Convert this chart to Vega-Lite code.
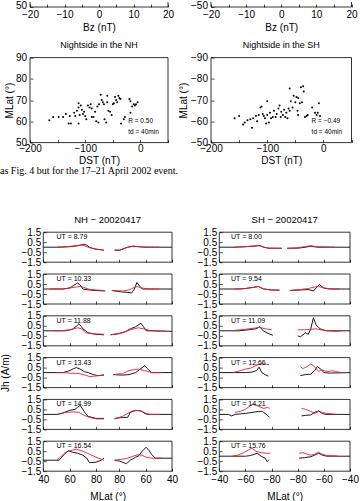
{
"$schema":"https://vega.github.io/schema/vega-lite/v6.json",
"padding":{"top":0,"left":0,"right":0,"bottom":0},
"background":"white",
"columns":2,
"spacing":{"row":11.8,"column":39},
"bounds":"flush",
"align":"each",
"resolve":{"scale":{"x":"independent","y":"independent"}},
"config":{
 "font":"Liberation Sans",
 "view":{"stroke":null},
 "axis":{"domain":false,"grid":false,"tickSize":-3,"tickCount":50,"tickColor":"#000","tickWidth":0.7,"labelColor":"#000","titleColor":"#000","labelFontSize":10,"titleFontSize":10,"titleFontWeight":"normal","labelFlush":false,"labelOverlap":false},
 "title":{"fontSize":9,"fontWeight":"normal","color":"#000"}
},
"concat":[
{"width":138,"height":5,
 "layer":[
  {"data":{"values":[{}]},"mark":{"type":"rule","color":"#000","strokeWidth":0.8},
   "encoding":{"x":{"datum":-20,"type":"quantitative","scale":{"domain":[-20,20],"nice":false,"zero":false},"axis":{"values":[-20,-15,-10,-5,0,5,10,15,20],"tickCount":50,"labelExpr":"datum.value % 10 == 0 ? datum.label : ''","title":"Bz (nT)","labelPadding":5,"titlePadding":3}},"x2":{"datum":20},
   "y":{"datum":50,"type":"quantitative","scale":{"domain":[50,52.35],"nice":false,"zero":false},"axis":{"values":[50],"tickCount":50,"format":"d","title":null,"labelPadding":6.5,"labelOffset":-2}}}},
  {"data":{"values":[{}]},"mark":{"type":"rule","color":"#000","strokeWidth":0.8},"encoding":{"x":{"datum":-20},"y":{"datum":50},"y2":{"datum":52.35}}},
  {"data":{"values":[{}]},"mark":{"type":"rule","color":"#000","strokeWidth":0.8},"encoding":{"x":{"datum":20},"y":{"datum":50},"y2":{"datum":52.35}}}
 ]},
{"width":140.5,"height":5,
 "layer":[
  {"data":{"values":[{}]},"mark":{"type":"rule","color":"#000","strokeWidth":0.8},
   "encoding":{"x":{"datum":-20,"type":"quantitative","scale":{"domain":[-20,20],"nice":false,"zero":false},"axis":{"values":[-20,-15,-10,-5,0,5,10,15,20],"tickCount":50,"labelExpr":"datum.value % 10 == 0 ? datum.label : ''","title":"Bz (nT)","labelPadding":5,"titlePadding":3}},"x2":{"datum":20},
   "y":{"datum":-50,"type":"quantitative","scale":{"domain":[-52.35,-50],"nice":false,"zero":false,"reverse":true},"axis":{"values":[-50],"tickCount":50,"format":"d","title":null,"labelPadding":6.5,"labelOffset":-2}}}},
  {"data":{"values":[{}]},"mark":{"type":"rule","color":"#000","strokeWidth":0.8},"encoding":{"x":{"datum":-20},"y":{"datum":-50},"y2":{"datum":-52.35}}},
  {"data":{"values":[{}]},"mark":{"type":"rule","color":"#000","strokeWidth":0.8},"encoding":{"x":{"datum":20},"y":{"datum":-50},"y2":{"datum":-52.35}}}
 ]},
{"width":138,"height":26.4,"data":{"values":[{"a":1}]},"mark":{"type":"text"},"encoding":{"text":{"value":""}}},
{"width":140.5,"height":26.4,"data":{"values":[{"a":1}]},"mark":{"type":"text"},"encoding":{"text":{"value":""}}},
{"width":138,"height":85,"title":{"text":"Nightside in the NH","offset":3},
 "layer":[
  {"data":{"values":[{}]},"mark":{"type":"rect","fill":"transparent","stroke":"#000","strokeWidth":0.8},
   "encoding":{"x":{"datum":-200,"type":"quantitative","scale":{"domain":[-200,50],"nice":false,"zero":false},"axis":{"values":[-200,-150,-100,-50,0,50],"tickCount":50,"labelExpr":"datum.value % 100 == 0 ? datum.label : ''","title":"DST (nT)","labelPadding":4,"titlePadding":2}},"x2":{"datum":50},
   "y":{"datum":50,"type":"quantitative","scale":{"domain":[50,90],"nice":false,"zero":false},"axis":{"values":[50,60,70,80,90],"tickCount":50,"title":"MLat (°)","labelPadding":6.5,"titlePadding":1}},"y2":{"datum":90}}},
  {"data":{"values":[{"x":-165,"y":60.5},{"x":-158,"y":62},{"x":-148,"y":62},{"x":-140,"y":62},{"x":-135,"y":63.5},{"x":-128,"y":62.5},{"x":-126,"y":59},{"x":-120,"y":64},{"x":-118,"y":62.5},{"x":-115,"y":65},{"x":-112,"y":68.5},{"x":-112,"y":66.5},{"x":-110,"y":63},{"x":-108,"y":67.5},{"x":-106,"y":65.5},{"x":-112,"y":59},{"x":-104,"y":63.5},{"x":-102,"y":64.5},{"x":-100,"y":62.5},{"x":-98,"y":61},{"x":-95,"y":67.5},{"x":-92,"y":66.5},{"x":-90,"y":68},{"x":-88,"y":66},{"x":-85,"y":62},{"x":-82,"y":64.5},{"x":-80,"y":60},{"x":-78,"y":67},{"x":-76,"y":59.5},{"x":-75,"y":68},{"x":-72,"y":72.5},{"x":-70,"y":70},{"x":-68,"y":69},{"x":-66,"y":68},{"x":-65,"y":61},{"x":-62,"y":59.5},{"x":-60,"y":69},{"x":-58,"y":65},{"x":-55,"y":64.5},{"x":-52,"y":63},{"x":-50,"y":68},{"x":-48,"y":68.5},{"x":-46,"y":71.5},{"x":-44,"y":70},{"x":-42,"y":69},{"x":-40,"y":72},{"x":-38,"y":71},{"x":-36,"y":70.5},{"x":-35,"y":59},{"x":-30,"y":61},{"x":-28,"y":62},{"x":-20,"y":70.5},{"x":-18,"y":69.5},{"x":-15,"y":67},{"x":-12,"y":68},{"x":-10,"y":67.5},{"x":-8,"y":68},{"x":-5,"y":69},{"x":-18,"y":64},{"x":-60,"y":72},{"x":-88,"y":62},{"x":-130,"y":59}]},
   "mark":{"type":"circle","size":4,"color":"#000","opacity":1},"encoding":{"x":{"field":"x","type":"quantitative"},"y":{"field":"y","type":"quantitative"}}},
  {"data":{"values":[{"t":"R = 0.50"}]},"mark":{"type":"text","align":"left","baseline":"middle","fontSize":6.5},"encoding":{"x":{"datum":-22},"y":{"datum":60},"text":{"field":"t"}}},
  {"data":{"values":[{"t":"td = 40min"}]},"mark":{"type":"text","align":"left","baseline":"middle","fontSize":6.5},"encoding":{"x":{"datum":-22},"y":{"datum":55},"text":{"field":"t"}}}
 ]},
{"width":140.5,"height":85,"title":{"text":"Nightside in the SH","offset":3},
 "layer":[
  {"data":{"values":[{}]},"mark":{"type":"rect","fill":"transparent","stroke":"#000","strokeWidth":0.8},
   "encoding":{"x":{"datum":-200,"type":"quantitative","scale":{"domain":[-200,50],"nice":false,"zero":false},"axis":{"values":[-200,-150,-100,-50,0,50],"tickCount":50,"labelExpr":"datum.value % 100 == 0 ? datum.label : ''","title":"DST (nT)","labelPadding":4,"titlePadding":2}},"x2":{"datum":50},
   "y":{"datum":-90,"type":"quantitative","scale":{"domain":[-90,-50],"nice":false,"zero":false,"reverse":true},"axis":{"values":[-90,-80,-70,-60,-50],"tickCount":50,"title":"MLat (°)","labelPadding":6.5,"titlePadding":2}},"y2":{"datum":-50}}},
  {"data":{"values":[{"x":-158,"y":-61.5},{"x":-150,"y":-62.5},{"x":-143,"y":-58.5},{"x":-140,"y":-59.5},{"x":-135,"y":-60.5},{"x":-130,"y":-61},{"x":-127,"y":-57},{"x":-125,"y":-61.5},{"x":-120,"y":-62.5},{"x":-118,"y":-60},{"x":-115,"y":-63},{"x":-112,"y":-66.5},{"x":-110,"y":-67},{"x":-108,"y":-63.5},{"x":-106,"y":-62.5},{"x":-104,"y":-61.5},{"x":-102,"y":-59},{"x":-100,"y":-69.5},{"x":-100,"y":-63},{"x":-97,"y":-59.5},{"x":-95,"y":-64},{"x":-93,"y":-61.5},{"x":-90,"y":-62},{"x":-88,"y":-65},{"x":-85,"y":-62},{"x":-83,"y":-63.5},{"x":-80,"y":-66},{"x":-78,"y":-67.5},{"x":-76,"y":-62},{"x":-75,"y":-64.5},{"x":-72,"y":-63},{"x":-70,"y":-65.5},{"x":-68,"y":-62},{"x":-66,"y":-64},{"x":-64,"y":-61.5},{"x":-62,"y":-66},{"x":-60,"y":-65},{"x":-58,"y":-69.5},{"x":-55,"y":-66.5},{"x":-53,"y":-72},{"x":-50,"y":-69},{"x":-48,"y":-71.5},{"x":-46,"y":-65},{"x":-45,"y":-63},{"x":-42,"y":-68.5},{"x":-40,"y":-76},{"x":-38,"y":-69},{"x":-36,"y":-76.5},{"x":-35,"y":-74},{"x":-33,"y":-62},{"x":-30,"y":-62.5},{"x":-28,"y":-63},{"x":-20,"y":-66.5},{"x":-15,"y":-64},{"x":-12,"y":-63},{"x":-10,"y":-64},{"x":-8,"y":-68.5},{"x":-6,"y":-62.5},{"x":-60,"y":-75.5},{"x":-45,"y":-71}]},
   "mark":{"type":"circle","size":4,"color":"#000","opacity":1},"encoding":{"x":{"field":"x","type":"quantitative"},"y":{"field":"y","type":"quantitative"}}},
  {"data":{"values":[{"t":"R = −0.49"}]},"mark":{"type":"text","align":"left","baseline":"middle","fontSize":6.5},"encoding":{"x":{"datum":-21},"y":{"datum":-60},"text":{"field":"t"}}},
  {"data":{"values":[{"t":"td = 40min"}]},"mark":{"type":"text","align":"left","baseline":"middle","fontSize":6.5},"encoding":{"x":{"datum":-21},"y":{"datum":-55},"text":{"field":"t"}}}
 ]},
{"width":138,"height":65.7,"title":{"text":"as Fig. 4 but for the 17–21 April 2002 event.","anchor":"start","frame":"group","offset":0,"dx":-30,"dy":22,"font":"Liberation Serif","fontSize":10},"data":{"values":[{"a":1}]},"mark":{"type":"text"},"encoding":{"text":{"value":""}}},
{"width":140.5,"height":65.7,"data":{"values":[{"a":1}]},"mark":{"type":"text"},"encoding":{"text":{"value":""}}},

{"width":142,"height":30,"title":{"text":"NH − 20020417","fontSize":9.5,"offset":3,"dx":6.6},
 "layer":[
  {"data":{"values":[{}]},"mark":{"type":"rect","fill":"transparent","stroke":"#000","strokeWidth":0.8},
   "encoding":{"x":{"datum":40,"type":"quantitative","scale":{"domain":[40,137.6],"range":[13.3,142],"nice":false,"zero":false},"axis":{"values":[40,60,80,97.6,117.6,137.6],"tickCount":50,"labels":false,"title":null}},"x2":{"datum":137.6},
   "y":{"datum":-1.5,"type":"quantitative","scale":{"domain":[-1.5,1.5],"nice":false},"axis":{"values":[-1.5,-0.5,0.5,1.5],"tickCount":50,"format":".1f","offset":-13.3,"labelPadding":5.6,"title":null}},"y2":{"datum":1.5}}},
  {"data":{"values":[{"g":"k1","p":40,"y":0},{"g":"k1","p":50,"y":0},{"g":"k1","p":55,"y":0.02},{"g":"k1","p":60,"y":0.05},{"g":"k1","p":65,"y":0.12},{"g":"k1","p":68,"y":0.2},{"g":"k1","p":71,"y":0.3},{"g":"k1","p":73,"y":0.2},{"g":"k1","p":75,"y":0},{"g":"k1","p":77,"y":-0.1},{"g":"k1","p":80,"y":-0.2},{"g":"k1","p":83,"y":-0.25},{"g":"k1","p":86,"y":-0.3},
   {"g":"k2","p":94,"y":-0.3},{"g":"k2","p":98,"y":-0.3},{"g":"k2","p":101,"y":-0.15},{"g":"k2","p":104,"y":0},{"g":"k2","p":108,"y":0.1},{"g":"k2","p":112,"y":0.05},{"g":"k2","p":116,"y":0},{"g":"k2","p":125,"y":0},{"g":"k2","p":137.6,"y":0},
   {"g":"r1","p":50,"y":0},{"g":"r1","p":55,"y":0.02},{"g":"r1","p":60,"y":0.08},{"g":"r1","p":65,"y":0.15},{"g":"r1","p":68,"y":0.2},{"g":"r1","p":70,"y":0.2},{"g":"r1","p":72,"y":0.1},{"g":"r1","p":75,"y":-0.05},{"g":"r1","p":80,"y":-0.2},{"g":"r1","p":85,"y":-0.25},
   {"g":"r2","p":94,"y":-0.3},{"g":"r2","p":98,"y":-0.28},{"g":"r2","p":101,"y":-0.15},{"g":"r2","p":104,"y":0},{"g":"r2","p":108,"y":0.1},{"g":"r2","p":112,"y":0.06},{"g":"r2","p":118,"y":0.02},{"g":"r2","p":128,"y":0}]},
   "mark":{"type":"line","strokeWidth":0.9},"encoding":{"x":{"field":"p","type":"quantitative"},"y":{"field":"y","type":"quantitative"},"color":{"field":"g","type":"nominal","scale":{"domain":["k1","k2","r1","r2"],"range":["#000000","#000000","#e8202a","#e8202a"]},"legend":null}}},
  {"data":{"values":[{"t":"UT = 8.79"}]},"mark":{"type":"text","align":"left","baseline":"middle","fontSize":7},"encoding":{"x":{"datum":50},"y":{"datum":1.0},"text":{"field":"t"}}}
 ]},
{"width":139,"height":30,"title":{"text":"SH − 20020417","fontSize":9.5,"offset":3,"dx":4.2},
 "layer":[
  {"data":{"values":[{}]},"mark":{"type":"rect","fill":"transparent","stroke":"#000","strokeWidth":0.8},
   "encoding":{"x":{"datum":40,"type":"quantitative","scale":{"domain":[40,140],"range":[8.3,139],"nice":false,"zero":false},"axis":{"values":[40,60,80,100,120,140],"tickCount":50,"labels":false,"title":null}},"x2":{"datum":140},
   "y":{"datum":-1.5,"type":"quantitative","scale":{"domain":[-1.5,1.5],"nice":false},"axis":{"values":[-1.5,-0.5,0.5,1.5],"tickCount":50,"format":".1f","offset":-8.3,"labelPadding":5.6,"title":null}},"y2":{"datum":1.5}}},
  {"data":{"values":[{"g":"k1","p":40,"y":0},{"g":"k1","p":52,"y":0},{"g":"k1","p":60,"y":0.05},{"g":"k1","p":66,"y":0.1},{"g":"k1","p":71,"y":0.15},{"g":"k1","p":74,"y":0},{"g":"k1","p":78,"y":-0.1},{"g":"k1","p":88,"y":-0.1},
   {"g":"k2","p":92,"y":-0.1},{"g":"k2","p":100,"y":-0.1},{"g":"k2","p":106,"y":0},{"g":"k2","p":110,"y":0.1},{"g":"k2","p":115,"y":0},{"g":"k2","p":125,"y":0},{"g":"k2","p":140,"y":0},
   {"g":"r1","p":51,"y":0},{"g":"r1","p":60,"y":0.05},{"g":"r1","p":66,"y":0.12},{"g":"r1","p":70,"y":0.18},{"g":"r1","p":73,"y":0.05},{"g":"r1","p":77,"y":-0.1},{"g":"r1","p":87,"y":-0.12},
   {"g":"r2","p":92,"y":-0.12},{"g":"r2","p":100,"y":-0.05},{"g":"r2","p":105,"y":0.05},{"g":"r2","p":110,"y":0.15},{"g":"r2","p":114,"y":0.05},{"g":"r2","p":120,"y":0.03},{"g":"r2","p":128,"y":0}]},
   "mark":{"type":"line","strokeWidth":0.9},"encoding":{"x":{"field":"p","type":"quantitative"},"y":{"field":"y","type":"quantitative"},"color":{"field":"g","type":"nominal","scale":{"domain":["k1","k2","r1","r2"],"range":["#000000","#000000","#e8202a","#e8202a"]},"legend":null}}},
  {"data":{"values":[{"t":"UT = 8.00"}]},"mark":{"type":"text","align":"left","baseline":"middle","fontSize":7},"encoding":{"x":{"datum":49},"y":{"datum":1.0},"text":{"field":"t"}}}
 ]},

{"width":142,"height":30,
 "layer":[
  {"data":{"values":[{}]},"mark":{"type":"rect","fill":"transparent","stroke":"#000","strokeWidth":0.8},
   "encoding":{"x":{"datum":40,"type":"quantitative","scale":{"domain":[40,137.6],"range":[13.3,142],"nice":false,"zero":false},"axis":{"values":[40,60,80,97.6,117.6,137.6],"tickCount":50,"labels":false,"title":null}},"x2":{"datum":137.6},
   "y":{"datum":-1.5,"type":"quantitative","scale":{"domain":[-1.5,1.5],"nice":false},"axis":{"values":[-1.5,-0.5,0.5,1.5],"tickCount":50,"format":".1f","offset":-13.3,"labelPadding":5.6,"title":null}},"y2":{"datum":1.5}}},
  {"data":{"values":[{"g":"k1","p":40,"y":0},{"g":"k1","p":55,"y":0},{"g":"k1","p":60,"y":0.1},{"g":"k1","p":63,"y":0.35},{"g":"k1","p":66,"y":0.6},{"g":"k1","p":68,"y":0.4},{"g":"k1","p":70,"y":0},{"g":"k1","p":75,"y":-0.1},{"g":"k1","p":80,"y":-0.15},{"g":"k1","p":87,"y":-0.2},
   {"g":"k2","p":92,"y":-0.15},{"g":"k2","p":100,"y":-0.3},{"g":"k2","p":105,"y":-0.35},{"g":"k2","p":107,"y":-0.4},{"g":"k2","p":109,"y":0},{"g":"k2","p":111,"y":0.65},{"g":"k2","p":113,"y":0.3},{"g":"k2","p":115,"y":0},{"g":"k2","p":125,"y":0},{"g":"k2","p":137.6,"y":0},
   {"g":"r1","p":45,"y":0},{"g":"r1","p":55,"y":0},{"g":"r1","p":60,"y":0.1},{"g":"r1","p":65,"y":0.2},{"g":"r1","p":68,"y":0.25},{"g":"r1","p":71,"y":0.15},{"g":"r1","p":74,"y":0},{"g":"r1","p":80,"y":-0.1},{"g":"r1","p":86,"y":-0.15},
   {"g":"r2","p":92,"y":-0.15},{"g":"r2","p":100,"y":-0.2},{"g":"r2","p":105,"y":-0.1},{"g":"r2","p":108,"y":0.1},{"g":"r2","p":111,"y":0.25},{"g":"r2","p":115,"y":0.1},{"g":"r2","p":120,"y":0},{"g":"r2","p":128,"y":0}]},
   "mark":{"type":"line","strokeWidth":0.9},"encoding":{"x":{"field":"p","type":"quantitative"},"y":{"field":"y","type":"quantitative"},"color":{"field":"g","type":"nominal","scale":{"domain":["k1","k2","r1","r2"],"range":["#000000","#000000","#e8202a","#e8202a"]},"legend":null}}},
  {"data":{"values":[{"t":"UT = 10.33"}]},"mark":{"type":"text","align":"left","baseline":"middle","fontSize":7},"encoding":{"x":{"datum":50},"y":{"datum":1.0},"text":{"field":"t"}}}
 ]},
{"width":139,"height":30,
 "layer":[
  {"data":{"values":[{}]},"mark":{"type":"rect","fill":"transparent","stroke":"#000","strokeWidth":0.8},
   "encoding":{"x":{"datum":40,"type":"quantitative","scale":{"domain":[40,140],"range":[8.3,139],"nice":false,"zero":false},"axis":{"values":[40,60,80,100,120,140],"tickCount":50,"labels":false,"title":null}},"x2":{"datum":140},
   "y":{"datum":-1.5,"type":"quantitative","scale":{"domain":[-1.5,1.5],"nice":false},"axis":{"values":[-1.5,-0.5,0.5,1.5],"tickCount":50,"format":".1f","offset":-8.3,"labelPadding":5.6,"title":null}},"y2":{"datum":1.5}}},
  {"data":{"values":[{"g":"k1","p":40,"y":0},{"g":"k1","p":55,"y":0},{"g":"k1","p":60,"y":0.05},{"g":"k1","p":65,"y":0.15},{"g":"k1","p":70,"y":0.25},{"g":"k1","p":74,"y":0},{"g":"k1","p":80,"y":-0.1},{"g":"k1","p":86,"y":-0.1},
   {"g":"k2","p":94,"y":-0.15},{"g":"k2","p":102,"y":-0.1},{"g":"k2","p":108,"y":-0.05},{"g":"k2","p":112,"y":-0.2},{"g":"k2","p":116.5,"y":0.45},{"g":"k2","p":120,"y":0.1},{"g":"k2","p":124,"y":0},{"g":"k2","p":140,"y":0},
   {"g":"r1","p":52,"y":0},{"g":"r1","p":60,"y":0.05},{"g":"r1","p":66,"y":0.15},{"g":"r1","p":70,"y":0.25},{"g":"r1","p":74,"y":0},{"g":"r1","p":80,"y":-0.1},{"g":"r1","p":86,"y":-0.15},
   {"g":"r2","p":94,"y":-0.15},{"g":"r2","p":102,"y":-0.05},{"g":"r2","p":108,"y":0.05},{"g":"r2","p":113,"y":0.2},{"g":"r2","p":116,"y":0.25},{"g":"r2","p":120,"y":0.1},{"g":"r2","p":126,"y":0.02},{"g":"r2","p":132,"y":0}]},
   "mark":{"type":"line","strokeWidth":0.9},"encoding":{"x":{"field":"p","type":"quantitative"},"y":{"field":"y","type":"quantitative"},"color":{"field":"g","type":"nominal","scale":{"domain":["k1","k2","r1","r2"],"range":["#000000","#000000","#e8202a","#e8202a"]},"legend":null}}},
  {"data":{"values":[{"t":"UT = 9.54"}]},"mark":{"type":"text","align":"left","baseline":"middle","fontSize":7},"encoding":{"x":{"datum":49},"y":{"datum":1.0},"text":{"field":"t"}}}
 ]},

{"width":142,"height":30,
 "layer":[
  {"data":{"values":[{}]},"mark":{"type":"rect","fill":"transparent","stroke":"#000","strokeWidth":0.8},
   "encoding":{"x":{"datum":40,"type":"quantitative","scale":{"domain":[40,137.6],"range":[13.3,142],"nice":false,"zero":false},"axis":{"values":[40,60,80,97.6,117.6,137.6],"tickCount":50,"labels":false,"title":null}},"x2":{"datum":137.6},
   "y":{"datum":-1.5,"type":"quantitative","scale":{"domain":[-1.5,1.5],"nice":false},"axis":{"values":[-1.5,-0.5,0.5,1.5],"tickCount":50,"format":".1f","offset":-13.3,"labelPadding":5.6,"title":null}},"y2":{"datum":1.5}}},
  {"data":{"values":[{"g":"k1","p":40,"y":0},{"g":"k1","p":57,"y":0},{"g":"k1","p":62,"y":0.15},{"g":"k1","p":65,"y":0.45},{"g":"k1","p":67,"y":0.7},{"g":"k1","p":69,"y":0.4},{"g":"k1","p":70,"y":0.2},{"g":"k1","p":74,"y":-0.2},{"g":"k1","p":80,"y":-0.35},{"g":"k1","p":86,"y":-0.4},
   {"g":"k2","p":91,"y":-0.4},{"g":"k2","p":97,"y":-0.3},{"g":"k2","p":102,"y":-0.1},{"g":"k2","p":106,"y":0.2},{"g":"k2","p":110,"y":0.4},{"g":"k2","p":114,"y":0.75},{"g":"k2","p":116,"y":0.4},{"g":"k2","p":118,"y":0},{"g":"k2","p":125,"y":0},{"g":"k2","p":137.6,"y":-0.05},
   {"g":"r1","p":48,"y":0},{"g":"r1","p":55,"y":0.02},{"g":"r1","p":60,"y":0.1},{"g":"r1","p":63,"y":0.2},{"g":"r1","p":66,"y":0.3},{"g":"r1","p":69,"y":0.2},{"g":"r1","p":72,"y":-0.2},{"g":"r1","p":78,"y":-0.3},{"g":"r1","p":86,"y":-0.35},
   {"g":"r2","p":91,"y":-0.4},{"g":"r2","p":100,"y":-0.2},{"g":"r2","p":106,"y":0.1},{"g":"r2","p":112,"y":0.3},{"g":"r2","p":116,"y":0.2},{"g":"r2","p":122,"y":0},{"g":"r2","p":128,"y":-0.05},{"g":"r2","p":133,"y":-0.05}]},
   "mark":{"type":"line","strokeWidth":0.9},"encoding":{"x":{"field":"p","type":"quantitative"},"y":{"field":"y","type":"quantitative"},"color":{"field":"g","type":"nominal","scale":{"domain":["k1","k2","r1","r2"],"range":["#000000","#000000","#e8202a","#e8202a"]},"legend":null}}},
  {"data":{"values":[{"t":"UT = 11.88"}]},"mark":{"type":"text","align":"left","baseline":"middle","fontSize":7},"encoding":{"x":{"datum":50},"y":{"datum":1.0},"text":{"field":"t"}}}
 ]},
{"width":139,"height":30,
 "layer":[
  {"data":{"values":[{}]},"mark":{"type":"rect","fill":"transparent","stroke":"#000","strokeWidth":0.8},
   "encoding":{"x":{"datum":40,"type":"quantitative","scale":{"domain":[40,140],"range":[8.3,139],"nice":false,"zero":false},"axis":{"values":[40,60,80,100,120,140],"tickCount":50,"labels":false,"title":null}},"x2":{"datum":140},
   "y":{"datum":-1.5,"type":"quantitative","scale":{"domain":[-1.5,1.5],"nice":false},"axis":{"values":[-1.5,-0.5,0.5,1.5],"tickCount":50,"format":".1f","offset":-8.3,"labelPadding":5.6,"title":null}},"y2":{"datum":1.5}}},
  {"data":{"values":[{"g":"k1","p":40,"y":0},{"g":"k1","p":55,"y":0},{"g":"k1","p":62,"y":0.1},{"g":"k1","p":68,"y":0.2},{"g":"k1","p":71,"y":0.4},{"g":"k1","p":73.5,"y":0},{"g":"k1","p":78,"y":-0.3},{"g":"k1","p":81,"y":-0.45},
   {"g":"k2","p":100,"y":-0.5},{"g":"k2","p":102,"y":-0.6},{"g":"k2","p":104,"y":-0.4},{"g":"k2","p":106,"y":-0.2},{"g":"k2","p":108,"y":-0.35},{"g":"k2","p":110,"y":0.2},{"g":"k2","p":112,"y":1.3},{"g":"k2","p":114,"y":0.6},{"g":"k2","p":117,"y":0.2},{"g":"k2","p":122,"y":0},{"g":"k2","p":140,"y":0},
   {"g":"r1","p":52,"y":0.05},{"g":"r1","p":60,"y":0.15},{"g":"r1","p":66,"y":0.25},{"g":"r1","p":71,"y":0.35},{"g":"r1","p":75,"y":0.2},{"g":"r1","p":80,"y":0.1},
   {"g":"r2","p":100,"y":0.1},{"g":"r2","p":105,"y":0.1},{"g":"r2","p":110,"y":0.15},{"g":"r2","p":114,"y":0.2},{"g":"r2","p":118,"y":0.1},{"g":"r2","p":122,"y":0},{"g":"r2","p":130,"y":-0.05},{"g":"r2","p":134,"y":0}]},
   "mark":{"type":"line","strokeWidth":0.9},"encoding":{"x":{"field":"p","type":"quantitative"},"y":{"field":"y","type":"quantitative"},"color":{"field":"g","type":"nominal","scale":{"domain":["k1","k2","r1","r2"],"range":["#000000","#000000","#e8202a","#e8202a"]},"legend":null}}},
  {"data":{"values":[{"t":"UT = 11.09"}]},"mark":{"type":"text","align":"left","baseline":"middle","fontSize":7},"encoding":{"x":{"datum":49},"y":{"datum":1.0},"text":{"field":"t"}}}
 ]},

{"width":142,"height":30,
 "layer":[
  {"data":{"values":[{}]},"mark":{"type":"rect","fill":"transparent","stroke":"#000","strokeWidth":0.8},
   "encoding":{"x":{"datum":40,"type":"quantitative","scale":{"domain":[40,137.6],"range":[13.3,142],"nice":false,"zero":false},"axis":{"values":[40,60,80,97.6,117.6,137.6],"tickCount":50,"labels":false,"title":null}},"x2":{"datum":137.6},
   "y":{"datum":-1.5,"type":"quantitative","scale":{"domain":[-1.5,1.5],"nice":false},"axis":{"values":[-1.5,-0.5,0.5,1.5],"tickCount":50,"format":".1f","offset":-13.3,"labelPadding":5.6,"title":"Jh (A/m)","titlePadding":10}},"y2":{"datum":1.5}}},
  {"data":{"values":[{"g":"k1","p":40,"y":0},{"g":"k1","p":55,"y":0},{"g":"k1","p":60,"y":0.2},{"g":"k1","p":63,"y":0.4},{"g":"k1","p":65,"y":0.5},{"g":"k1","p":68,"y":0.35},{"g":"k1","p":71,"y":0.1},{"g":"k1","p":74,"y":0},{"g":"k1","p":78,"y":-0.2},{"g":"k1","p":81,"y":-0.3},{"g":"k1","p":86,"y":-0.25},
   {"g":"k2","p":93,"y":-0.2},{"g":"k2","p":100,"y":-0.25},{"g":"k2","p":105,"y":-0.2},{"g":"k2","p":110,"y":0},{"g":"k2","p":113,"y":0.3},{"g":"k2","p":117,"y":0.7},{"g":"k2","p":119,"y":0.4},{"g":"k2","p":122,"y":0},{"g":"k2","p":130,"y":0},{"g":"k2","p":137.6,"y":0},
   {"g":"r1","p":50,"y":0},{"g":"r1","p":55,"y":0},{"g":"r1","p":60,"y":-0.05},{"g":"r1","p":65,"y":-0.08},{"g":"r1","p":68,"y":-0.12},{"g":"r1","p":72,"y":-0.25},{"g":"r1","p":75,"y":-0.4},{"g":"r1","p":79,"y":-0.35},{"g":"r1","p":83,"y":-0.3},{"g":"r1","p":86,"y":-0.2},
   {"g":"r2","p":93,"y":-0.2},{"g":"r2","p":100,"y":-0.1},{"g":"r2","p":105,"y":0.2},{"g":"r2","p":109,"y":0.3},{"g":"r2","p":112,"y":0.35},{"g":"r2","p":117,"y":0.2},{"g":"r2","p":122,"y":0},{"g":"r2","p":130,"y":0}]},
   "mark":{"type":"line","strokeWidth":0.9},"encoding":{"x":{"field":"p","type":"quantitative"},"y":{"field":"y","type":"quantitative"},"color":{"field":"g","type":"nominal","scale":{"domain":["k1","k2","r1","r2"],"range":["#000000","#000000","#e8202a","#e8202a"]},"legend":null}}},
  {"data":{"values":[{"t":"UT = 13.43"}]},"mark":{"type":"text","align":"left","baseline":"middle","fontSize":7},"encoding":{"x":{"datum":50},"y":{"datum":1.0},"text":{"field":"t"}}}
 ]},
{"width":139,"height":30,
 "layer":[
  {"data":{"values":[{}]},"mark":{"type":"rect","fill":"transparent","stroke":"#000","strokeWidth":0.8},
   "encoding":{"x":{"datum":40,"type":"quantitative","scale":{"domain":[40,140],"range":[8.3,139],"nice":false,"zero":false},"axis":{"values":[40,60,80,100,120,140],"tickCount":50,"labels":false,"title":null}},"x2":{"datum":140},
   "y":{"datum":-1.5,"type":"quantitative","scale":{"domain":[-1.5,1.5],"nice":false},"axis":{"values":[-1.5,-0.5,0.5,1.5],"tickCount":50,"format":".1f","offset":-8.3,"labelPadding":5.6,"title":null}},"y2":{"datum":1.5}}},
  {"data":{"values":[{"g":"k1","p":40,"y":0},{"g":"k1","p":60,"y":0},{"g":"k1","p":65,"y":0.05},{"g":"k1","p":68.5,"y":0.2},{"g":"k1","p":70.5,"y":0.55},{"g":"k1","p":72.5,"y":0},{"g":"k1","p":75,"y":-0.2},{"g":"k1","p":77.5,"y":-0.35},
   {"g":"k2","p":102,"y":-0.3},{"g":"k2","p":106,"y":-0.2},{"g":"k2","p":110,"y":-0.15},{"g":"k2","p":113,"y":0.2},{"g":"k2","p":115,"y":0.6},{"g":"k2","p":118,"y":0.3},{"g":"k2","p":120,"y":0},{"g":"k2","p":124,"y":-0.05},{"g":"k2","p":140,"y":0},
   {"g":"r1","p":50,"y":0},{"g":"r1","p":55,"y":0.15},{"g":"r1","p":60,"y":0.35},{"g":"r1","p":64,"y":0.45},{"g":"r1","p":68,"y":0.7},{"g":"r1","p":72,"y":0.9},{"g":"r1","p":75,"y":0.85},{"g":"r1","p":78,"y":0.8},
   {"g":"r2","p":102,"y":0.6},{"g":"r2","p":104,"y":0.4},{"g":"r2","p":107,"y":0.6},{"g":"r2","p":110,"y":0.85},{"g":"r2","p":112,"y":0.7},{"g":"r2","p":114,"y":0.4},{"g":"r2","p":116,"y":0.1},{"g":"r2","p":118,"y":0.3},{"g":"r2","p":121,"y":0.15},{"g":"r2","p":124,"y":0.1},{"g":"r2","p":126,"y":0.2},{"g":"r2","p":129,"y":0.1},{"g":"r2","p":134,"y":0}]},
   "mark":{"type":"line","strokeWidth":0.9},"encoding":{"x":{"field":"p","type":"quantitative"},"y":{"field":"y","type":"quantitative"},"color":{"field":"g","type":"nominal","scale":{"domain":["k1","k2","r1","r2"],"range":["#000000","#000000","#e8202a","#e8202a"]},"legend":null}}},
  {"data":{"values":[{"t":"UT = 12.66"}]},"mark":{"type":"text","align":"left","baseline":"middle","fontSize":7},"encoding":{"x":{"datum":49},"y":{"datum":1.0},"text":{"field":"t"}}}
 ]},

{"width":142,"height":30,
 "layer":[
  {"data":{"values":[{}]},"mark":{"type":"rect","fill":"transparent","stroke":"#000","strokeWidth":0.8},
   "encoding":{"x":{"datum":40,"type":"quantitative","scale":{"domain":[40,137.6],"range":[13.3,142],"nice":false,"zero":false},"axis":{"values":[40,60,80,97.6,117.6,137.6],"tickCount":50,"labels":false,"title":null}},"x2":{"datum":137.6},
   "y":{"datum":-1.5,"type":"quantitative","scale":{"domain":[-1.5,1.5],"nice":false},"axis":{"values":[-1.5,-0.5,0.5,1.5],"tickCount":50,"format":".1f","offset":-13.3,"labelPadding":5.6,"title":null}},"y2":{"datum":1.5}}},
  {"data":{"values":[{"g":"k1","p":40,"y":0},{"g":"k1","p":51,"y":0},{"g":"k1","p":55,"y":0.15},{"g":"k1","p":60,"y":0.4},{"g":"k1","p":64,"y":0.5},{"g":"k1","p":66,"y":0.7},{"g":"k1","p":68,"y":0.9},{"g":"k1","p":70,"y":0.5},{"g":"k1","p":72,"y":0.1},{"g":"k1","p":74,"y":-0.2},{"g":"k1","p":80,"y":-0.4},{"g":"k1","p":86,"y":-0.4},
   {"g":"k2","p":94,"y":-0.4},{"g":"k2","p":100,"y":-0.3},{"g":"k2","p":104,"y":-0.3},{"g":"k2","p":106,"y":0.2},{"g":"k2","p":110,"y":0.4},{"g":"k2","p":114,"y":0.35},{"g":"k2","p":117,"y":0.1},{"g":"k2","p":119,"y":0},{"g":"k2","p":128,"y":0},{"g":"k2","p":137.6,"y":0},
   {"g":"r1","p":50,"y":0},{"g":"r1","p":54,"y":0.1},{"g":"r1","p":57,"y":0.2},{"g":"r1","p":63,"y":0.25},{"g":"r1","p":67,"y":0.2},{"g":"r1","p":71,"y":-0.1},{"g":"r1","p":75,"y":-0.3},{"g":"r1","p":80,"y":-0.45},{"g":"r1","p":86,"y":-0.45},
   {"g":"r2","p":94,"y":-0.45},{"g":"r2","p":100,"y":-0.2},{"g":"r2","p":104,"y":0.1},{"g":"r2","p":108,"y":0.35},{"g":"r2","p":112,"y":0.4},{"g":"r2","p":115,"y":0.3},{"g":"r2","p":118,"y":0.1},{"g":"r2","p":121,"y":0},{"g":"r2","p":128,"y":0}]},
   "mark":{"type":"line","strokeWidth":0.9},"encoding":{"x":{"field":"p","type":"quantitative"},"y":{"field":"y","type":"quantitative"},"color":{"field":"g","type":"nominal","scale":{"domain":["k1","k2","r1","r2"],"range":["#000000","#000000","#e8202a","#e8202a"]},"legend":null}}},
  {"data":{"values":[{"t":"UT = 14.99"}]},"mark":{"type":"text","align":"left","baseline":"middle","fontSize":7},"encoding":{"x":{"datum":50},"y":{"datum":1.0},"text":{"field":"t"}}}
 ]},
{"width":139,"height":30,
 "layer":[
  {"data":{"values":[{}]},"mark":{"type":"rect","fill":"transparent","stroke":"#000","strokeWidth":0.8},
   "encoding":{"x":{"datum":40,"type":"quantitative","scale":{"domain":[40,140],"range":[8.3,139],"nice":false,"zero":false},"axis":{"values":[40,60,80,100,120,140],"tickCount":50,"labels":false,"title":null}},"x2":{"datum":140},
   "y":{"datum":-1.5,"type":"quantitative","scale":{"domain":[-1.5,1.5],"nice":false},"axis":{"values":[-1.5,-0.5,0.5,1.5],"tickCount":50,"format":".1f","offset":-8.3,"labelPadding":5.6,"title":null}},"y2":{"datum":1.5}}},
  {"data":{"values":[{"g":"k1","p":40,"y":0},{"g":"k1","p":47,"y":0},{"g":"k1","p":49.5,"y":-0.15},{"g":"k1","p":52,"y":0},{"g":"k1","p":56,"y":0.05},{"g":"k1","p":60,"y":0.1},{"g":"k1","p":65,"y":0.2},{"g":"k1","p":70,"y":0.3},{"g":"k1","p":73,"y":0.3},{"g":"k1","p":75,"y":0.1},{"g":"k1","p":77,"y":-0.1},{"g":"k1","p":78.5,"y":-0.3},
   {"g":"k2","p":103,"y":-0.15},{"g":"k2","p":106,"y":-0.1},{"g":"k2","p":110,"y":-0.05},{"g":"k2","p":113,"y":0.2},{"g":"k2","p":116,"y":0.35},{"g":"k2","p":118,"y":0.15},{"g":"k2","p":121,"y":0},{"g":"k2","p":140,"y":0},
   {"g":"r1","p":52,"y":0.2},{"g":"r1","p":56,"y":0.3},{"g":"r1","p":60,"y":0.5},{"g":"r1","p":64,"y":0.9},{"g":"r1","p":66,"y":1.05},{"g":"r1","p":70,"y":0.8},{"g":"r1","p":74,"y":0.6},{"g":"r1","p":77,"y":0.7},{"g":"r1","p":78.5,"y":0.6},
   {"g":"r2","p":103,"y":0.6},{"g":"r2","p":106,"y":0.5},{"g":"r2","p":110,"y":0.3},{"g":"r2","p":113,"y":0.1},{"g":"r2","p":116,"y":0.3},{"g":"r2","p":119,"y":0.2},{"g":"r2","p":122,"y":0.1},{"g":"r2","p":126,"y":0.05},{"g":"r2","p":130,"y":0}]},
   "mark":{"type":"line","strokeWidth":0.9},"encoding":{"x":{"field":"p","type":"quantitative"},"y":{"field":"y","type":"quantitative"},"color":{"field":"g","type":"nominal","scale":{"domain":["k1","k2","r1","r2"],"range":["#000000","#000000","#e8202a","#e8202a"]},"legend":null}}},
  {"data":{"values":[{"t":"UT = 14.21"}]},"mark":{"type":"text","align":"left","baseline":"middle","fontSize":7},"encoding":{"x":{"datum":49},"y":{"datum":1.0},"text":{"field":"t"}}}
 ]},

{"width":142,"height":30,
 "layer":[
  {"data":{"values":[{}]},"mark":{"type":"rect","fill":"transparent","stroke":"#000","strokeWidth":0.8},
   "encoding":{"x":{"datum":40,"type":"quantitative","scale":{"domain":[40,137.6],"range":[13.3,142],"nice":false,"zero":false},"axis":{"values":[40,60,80,97.6,117.6,137.6],"tickCount":50,"labelExpr":"datum.value < 90 ? datum.value : round(177.6 - datum.value)","labelPadding":6,"title":"MLat (°)","titlePadding":7}},"x2":{"datum":137.6},
   "y":{"datum":-1.5,"type":"quantitative","scale":{"domain":[-1.5,1.5],"nice":false},"axis":{"values":[-1.5,-0.5,0.5,1.5],"tickCount":50,"format":".1f","offset":-13.3,"labelPadding":5.6,"title":null}},"y2":{"datum":1.5}}},
  {"data":{"values":[{"g":"k1","p":40,"y":-0.4},{"g":"k1","p":52,"y":-0.4},{"g":"k1","p":54,"y":-0.1},{"g":"k1","p":56,"y":0.2},{"g":"k1","p":59,"y":0.55},{"g":"k1","p":62,"y":0.4},{"g":"k1","p":66,"y":0.3},{"g":"k1","p":70,"y":0.1},{"g":"k1","p":73,"y":-0.2},{"g":"k1","p":75,"y":-0.65},{"g":"k1","p":80,"y":-0.6},{"g":"k1","p":84,"y":-0.4},{"g":"k1","p":86,"y":-0.2},
   {"g":"k2","p":94,"y":-0.4},{"g":"k2","p":98,"y":-0.5},{"g":"k2","p":103,"y":-0.75},{"g":"k2","p":106,"y":-0.4},{"g":"k2","p":110,"y":-0.1},{"g":"k2","p":112,"y":0},{"g":"k2","p":115,"y":0.5},{"g":"k2","p":118,"y":0.9},{"g":"k2","p":120,"y":0.6},{"g":"k2","p":122,"y":0.2},{"g":"k2","p":125,"y":-0.2},{"g":"k2","p":137.6,"y":-0.2},
   {"g":"r1","p":50,"y":-0.4},{"g":"r1","p":53,"y":-0.1},{"g":"r1","p":56,"y":0.3},{"g":"r1","p":59,"y":0.5},{"g":"r1","p":62,"y":0.6},{"g":"r1","p":65,"y":0.7},{"g":"r1","p":70,"y":0.5},{"g":"r1","p":75,"y":0.2},{"g":"r1","p":80,"y":-0.1},{"g":"r1","p":86,"y":-0.4},
   {"g":"r2","p":94,"y":-0.4},{"g":"r2","p":100,"y":-0.3},{"g":"r2","p":104,"y":-0.2},{"g":"r2","p":108,"y":0},{"g":"r2","p":112,"y":0.15},{"g":"r2","p":115,"y":0.1},{"g":"r2","p":118,"y":-0.1},{"g":"r2","p":122,"y":-0.2},{"g":"r2","p":130,"y":-0.2}]},
   "mark":{"type":"line","strokeWidth":0.9},"encoding":{"x":{"field":"p","type":"quantitative"},"y":{"field":"y","type":"quantitative"},"color":{"field":"g","type":"nominal","scale":{"domain":["k1","k2","r1","r2"],"range":["#000000","#000000","#e8202a","#e8202a"]},"legend":null}}},
  {"data":{"values":[{"t":"UT = 16.54"}]},"mark":{"type":"text","align":"left","baseline":"middle","fontSize":7},"encoding":{"x":{"datum":50},"y":{"datum":1.0},"text":{"field":"t"}}}
 ]},
{"width":139,"height":30,
 "layer":[
  {"data":{"values":[{}]},"mark":{"type":"rect","fill":"transparent","stroke":"#000","strokeWidth":0.8},
   "encoding":{"x":{"datum":40,"type":"quantitative","scale":{"domain":[40,140],"range":[8.3,139],"nice":false,"zero":false},"axis":{"values":[40,60,80,100,120,140],"tickCount":50,"labelExpr":"'−' + (datum.value < 90 ? datum.value : 180 - datum.value)","labelPadding":6,"title":"MLat (°)","titlePadding":7}},"x2":{"datum":140},
   "y":{"datum":-1.5,"type":"quantitative","scale":{"domain":[-1.5,1.5],"nice":false},"axis":{"values":[-1.5,-0.5,0.5,1.5],"tickCount":50,"format":".1f","offset":-8.3,"labelPadding":5.6,"title":null}},"y2":{"datum":1.5}}},
  {"data":{"values":[{"g":"k1","p":40,"y":0},{"g":"k1","p":60,"y":0},{"g":"k1","p":63,"y":0.05},{"g":"k1","p":66,"y":0.15},{"g":"k1","p":69,"y":0.3},{"g":"k1","p":72,"y":0},{"g":"k1","p":75,"y":-0.2},{"g":"k1","p":76.7,"y":-0.55},{"g":"k1","p":78,"y":-0.35},
   {"g":"k2","p":101,"y":-0.2},{"g":"k2","p":105,"y":-0.15},{"g":"k2","p":110,"y":-0.05},{"g":"k2","p":113,"y":0.1},{"g":"k2","p":116,"y":0.3},{"g":"k2","p":119,"y":0.1},{"g":"k2","p":122,"y":0},{"g":"k2","p":140,"y":0},
   {"g":"r1","p":50,"y":0},{"g":"r1","p":54,"y":0.1},{"g":"r1","p":58,"y":0.3},{"g":"r1","p":62,"y":0.6},{"g":"r1","p":65,"y":0.8},{"g":"r1","p":68,"y":0.5},{"g":"r1","p":72,"y":0.35},{"g":"r1","p":76,"y":0.3},{"g":"r1","p":79,"y":0.3},
   {"g":"r2","p":101,"y":0.3},{"g":"r2","p":104,"y":0.35},{"g":"r2","p":107,"y":0.2},{"g":"r2","p":110,"y":0.1},{"g":"r2","p":113,"y":0.2},{"g":"r2","p":116,"y":0.4},{"g":"r2","p":118,"y":0.25},{"g":"r2","p":121,"y":0.1},{"g":"r2","p":124,"y":0.05},{"g":"r2","p":128,"y":0.05},{"g":"r2","p":131,"y":0}]},
   "mark":{"type":"line","strokeWidth":0.9},"encoding":{"x":{"field":"p","type":"quantitative"},"y":{"field":"y","type":"quantitative"},"color":{"field":"g","type":"nominal","scale":{"domain":["k1","k2","r1","r2"],"range":["#000000","#000000","#e8202a","#e8202a"]},"legend":null}}},
  {"data":{"values":[{"t":"UT = 15.76"}]},"mark":{"type":"text","align":"left","baseline":"middle","fontSize":7},"encoding":{"x":{"datum":49},"y":{"datum":1.0},"text":{"field":"t"}}}
 ]}
]
}
